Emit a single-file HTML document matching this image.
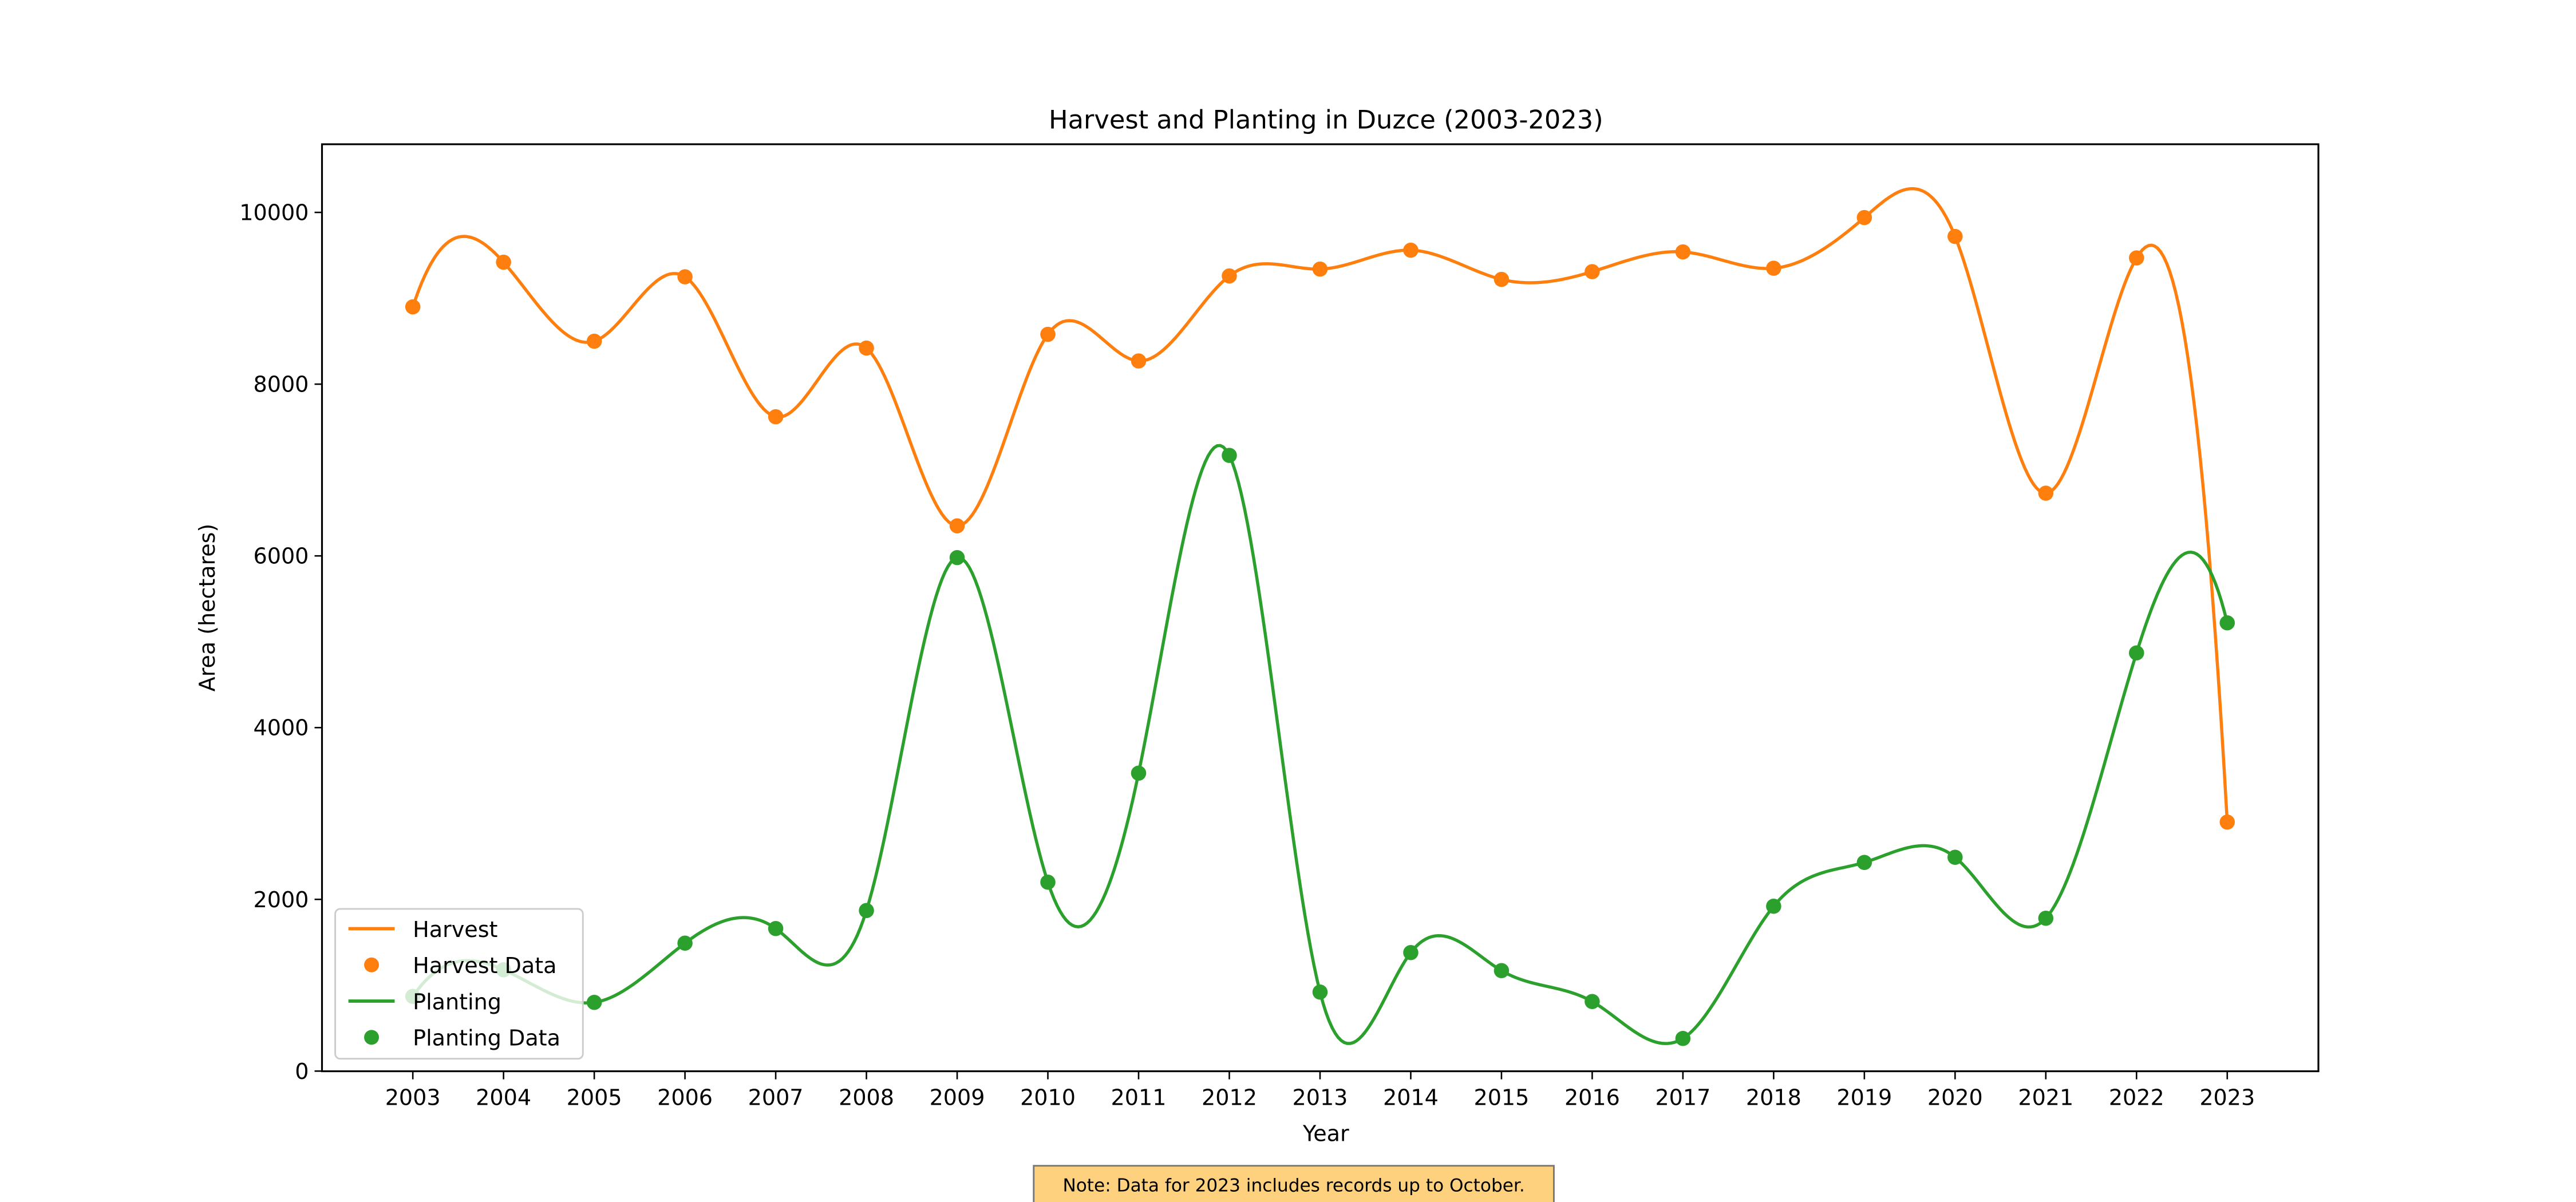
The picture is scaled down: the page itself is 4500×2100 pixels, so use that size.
<!DOCTYPE html>
<html><head><meta charset="utf-8"><style>
html,body{margin:0;padding:0;background:#fff;}
svg{display:block;font-family:"DejaVu Sans","Liberation Sans",sans-serif;}
</style></head><body>
<svg id="chart" width="4500" height="2100" viewBox="0 0 1560 730" preserveAspectRatio="none" xmlns="http://www.w3.org/2000/svg">
<rect x="0" y="0" width="1560" height="730" fill="#fff"/>
<text x="803" y="78" font-size="15.5" text-anchor="middle">Harvest and Planting in Duzce (2003-2023)</text>
<g id="series"></g>
<rect x="195" y="87.6" width="1209" height="563" fill="none" stroke="#000" stroke-width="1.1"/>
<g id="ticks"></g>
<text x="130" y="369" font-size="13.2" text-anchor="middle" transform="rotate(-90 130 369)">Area (hectares)</text>
<text x="803" y="693" font-size="13.2" text-anchor="middle">Year</text>
<g id="legend">
<rect x="203" y="552" width="150" height="91" rx="3" fill="#fff" fill-opacity="0.8" stroke="#ccc" stroke-width="1"/>
<line x1="211" y1="564" x2="239" y2="564" stroke="#ff7f0e" stroke-width="2"/>
<text x="250" y="569" font-size="13.2">Harvest</text>
<circle cx="225" cy="586" r="4.5" fill="#ff7f0e"/>
<text x="250" y="591" font-size="13.2">Harvest Data</text>
<line x1="211" y1="608" x2="239" y2="608" stroke="#2ca02c" stroke-width="2"/>
<text x="250" y="613" font-size="13.2">Planting</text>
<circle cx="225" cy="630" r="4.5" fill="#2ca02c"/>
<text x="250" y="635" font-size="13.2">Planting Data</text>
</g>
<g>
<rect x="626" y="708" width="315" height="28" fill="#fed17e" stroke="#777" stroke-width="1"/>
<text x="783.5" y="723.5" font-size="10.8" text-anchor="middle">Note: Data for 2023 includes records up to October.</text>
</g>
</svg>
<script>
const years = [2003,2004,2005,2006,2007,2008,2009,2010,2011,2012,2013,2014,2015,2016,2017,2018,2019,2020,2021,2022,2023];
const harvest = [8900,9420,8500,9250,7620,8420,6350,8580,8270,9260,9340,9560,9220,9310,9540,9350,9940,9720,6730,9470,2900];
const planting = [870,1180,800,1490,1660,1870,5980,2200,3470,7170,920,1380,1170,810,380,1920,2430,2490,1780,4870,5220];
const yTicks = [0,2000,4000,6000,8000,10000];

const NS = "http://www.w3.org/2000/svg";
function xs(yr){ return 250 + (yr - 2003) * 54.94; }
function ys(v){ return 650.5 - v * 0.05215; }

// not-a-knot cubic spline
function spline(xv, yv){
  const n = xv.length, h=[];
  for(let i=0;i<n-1;i++) h.push(xv[i+1]-xv[i]);
  const M=[]; const R=[];
  for(let i=0;i<n;i++){ M.push(new Array(n).fill(0)); R.push(0); }
  M[0][0]=h[1]; M[0][1]=-(h[0]+h[1]); M[0][2]=h[0];
  M[n-1][n-3]=h[n-2]; M[n-1][n-2]=-(h[n-3]+h[n-2]); M[n-1][n-1]=h[n-3];
  for(let i=1;i<n-1;i++){
    M[i][i-1]=h[i-1]; M[i][i]=2*(h[i-1]+h[i]); M[i][i+1]=h[i];
    R[i]=6*((yv[i+1]-yv[i])/h[i]-(yv[i]-yv[i-1])/h[i-1]);
  }
  for(let c=0;c<n;c++){
    let p=c; for(let r=c+1;r<n;r++) if(Math.abs(M[r][c])>Math.abs(M[p][c])) p=r;
    [M[c],M[p]]=[M[p],M[c]]; [R[c],R[p]]=[R[p],R[c]];
    for(let r=c+1;r<n;r++){ const w=M[r][c]/M[c][c]; if(!w) continue; for(let k=c;k<n;k++) M[r][k]-=w*M[c][k]; R[r]-=w*R[c]; }
  }
  const m=new Array(n).fill(0);
  for(let r=n-1;r>=0;r--){ let s=R[r]; for(let k=r+1;k<n;k++) s-=M[r][k]*m[k]; m[r]=s/M[r][r]; }
  return function(x){
    let i=0; while(i<n-2 && x>xv[i+1]) i++;
    const t1=xv[i+1]-x, t0=x-xv[i], hh=h[i];
    return m[i]*t1*t1*t1/(6*hh)+m[i+1]*t0*t0*t0/(6*hh)+(yv[i]/hh-m[i]*hh/6)*t1+(yv[i+1]/hh-m[i+1]*hh/6)*t0;
  };
}

const ticks = document.getElementById('ticks');
yTicks.forEach(v=>{
  const l=document.createElementNS(NS,'line');
  l.setAttribute('x1',190.5); l.setAttribute('x2',195); l.setAttribute('y1',ys(v)); l.setAttribute('y2',ys(v));
  l.setAttribute('stroke','#000'); l.setAttribute('stroke-width','0.9');
  
  
  ticks.appendChild(l);
  const t=document.createElementNS(NS,'text');
  t.setAttribute('x',187); t.setAttribute('y',ys(v)+4.7); t.setAttribute('text-anchor','end'); t.setAttribute('font-size','13.2');
  t.textContent=v;
  
  
  ticks.appendChild(t);
});
years.forEach(yr=>{
  const l=document.createElementNS(NS,'line');
  l.setAttribute('x1',xs(yr)); l.setAttribute('x2',xs(yr)); l.setAttribute('y1',651); l.setAttribute('y2',655.5);
  l.setAttribute('stroke','#000'); l.setAttribute('stroke-width','0.9');
  
  
  ticks.appendChild(l);
  const t=document.createElementNS(NS,'text');
  t.setAttribute('x',xs(yr)); t.setAttribute('y',671); t.setAttribute('text-anchor','middle'); t.setAttribute('font-size','13.2');
  t.textContent=yr;
  
  
  ticks.appendChild(t);
});

const series = document.getElementById('series');
function drawSeries(vals, color, name){
  const f=spline(years, vals);
  let d='';
  for(let i=0;i<=600;i++){
    const x=years[0]+(years[years.length-1]-years[0])*i/600;
    d+=(i?'L':'M')+xs(x).toFixed(2)+' '+ys(f(x)).toFixed(2);
  }
  const p=document.createElementNS(NS,'path');
  p.setAttribute('d',d); p.setAttribute('fill','none'); p.setAttribute('stroke',color); p.setAttribute('stroke-width','1.9');
  
  
  series.appendChild(p);
  vals.forEach((v,i)=>{
    const c=document.createElementNS(NS,'circle');
    c.setAttribute('cx',xs(years[i])); c.setAttribute('cy',ys(v)); c.setAttribute('r','4.6'); c.setAttribute('fill',color);
    
    
    series.appendChild(c);
  });
}
drawSeries(harvest,'#ff7f0e','harvest');
drawSeries(planting,'#2ca02c','planting');
</script>
</body></html>
